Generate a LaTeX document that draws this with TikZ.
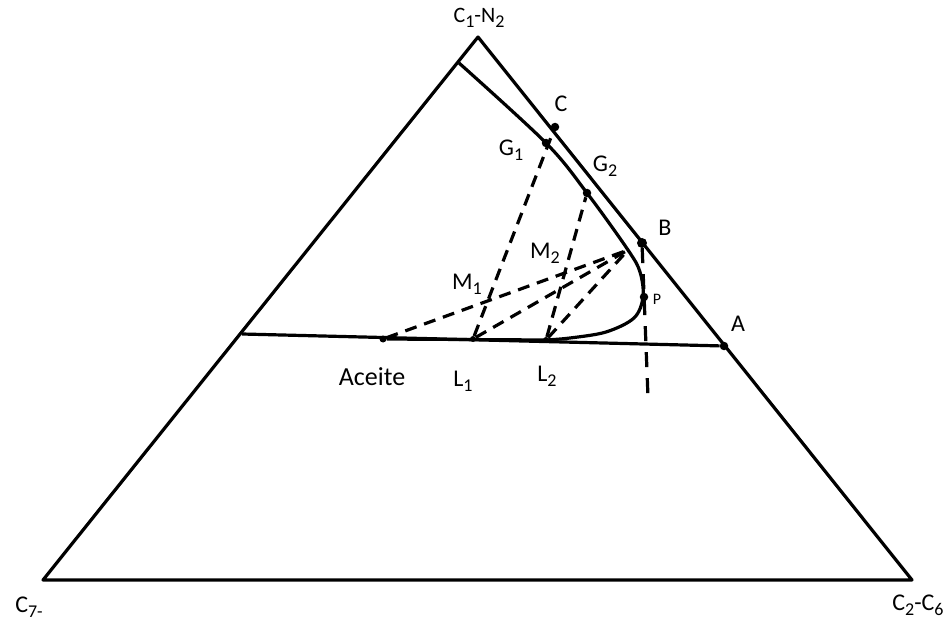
\documentclass[tikz,border=0pt]{standalone}
\usepackage{fontspec}
\setmainfont{Carlito}
\usetikzlibrary{positioning}
\newcommand\idx[1]{\raisebox{-0.45ex}{\fontsize{18}{18}\selectfont #1}}
\begin{document}
\begin{tikzpicture}[x=1pt,y=-1pt,
  edge/.style={line width=3.2pt,line join=round},
  tie/.style={line width=3.2pt,dash pattern=on 12pt off 8pt},
  dot/.style={circle,fill,inner sep=0pt,minimum size=8.5pt},
  lab/.style={font=\fontsize{24}{26}\selectfont,inner sep=0pt}]
  \useasboundingbox (0,0) rectangle (946,623);
  % triangle
  \coordinate (top) at (478,37);
  \coordinate (left) at (43,580);
  \coordinate (right) at (912,580);
  \draw[edge] (left) -- (top) -- (right) -- cycle;
  \node[lab,font=\fontsize{22}{24}\selectfont] (ltop) at (479,18) {C\idx{1}-N\idx{2}};
  \node[lab] (lleft) at (29,607) {C\idx{7-}};
  \node[lab] (lright) at (918,605) {C\idx{2}-C\idx{6}};
  % points
  \node[dot] (C) at (555,127) {};
  \node[dot] (G1) at (546,143) {};
  \node[dot] (G2) at (587,193) {};
  \node[dot,minimum size=10pt] (B) at (642,243) {};
  \node[dot] (P) at (644,297) {};
  \node[dot] (A) at (724,346) {};
  \node[dot,minimum size=7pt] (oil) at (383,339) {};
  \node[dot,minimum size=6pt] (L1) at (473,339) {};
  \node[dot,minimum size=6pt] (L2) at (546,340) {};
  \coordinate (Bc) at (628,250);
  \coordinate (start) at (459,63);
  \coordinate (low) at (648,397);
  % horizontal line and binodal curve
  \draw[edge] (242,334) -- (A);
  \draw[edge] plot[smooth,tension=0.55] coordinates {(start) (G1) (G2) (Bc) (640,272) (643,297) (634,318) (606,332) (570,338) (L2)} -- (oil);
  % tie lines
  \draw[tie] (L1) -- (C);
  \draw[tie] (L2) -- (G2);
  \draw[tie] (oil) -- (Bc);
  \draw[tie] (L1) -- (Bc);
  \draw[tie] (L2) -- (Bc);
  \draw[edge,dash pattern=on 15pt off 11pt] (B) -- (low);
  % labels
  \node[lab] (lC) at (561,104) {C};
  \node[lab] (lG1) at (511,150) {G\idx{1}};
  \node[lab] (lG2) at (605,166) {G\idx{2}};
  \node[lab] (lB) at (665,228) {B};
  \node[lab] (lM1) at (467,284) {M\idx{1}};
  \node[lab] (lM2) at (545,253) {M\idx{2}};
  \node[lab,font=\rmfamily\fontsize{16}{18}\selectfont] (lP) at (657,299) {P};
  \node[lab] (lA) at (738,324) {A};
  \node[lab,font=\fontsize{26}{28}\selectfont] (loil) at (372,377) {Aceite};
  \node[lab] (lL1) at (463,381) {L\idx{1}};
  \node[lab] (lL2) at (547,376) {L\idx{2}};
\end{tikzpicture}
\end{document}
